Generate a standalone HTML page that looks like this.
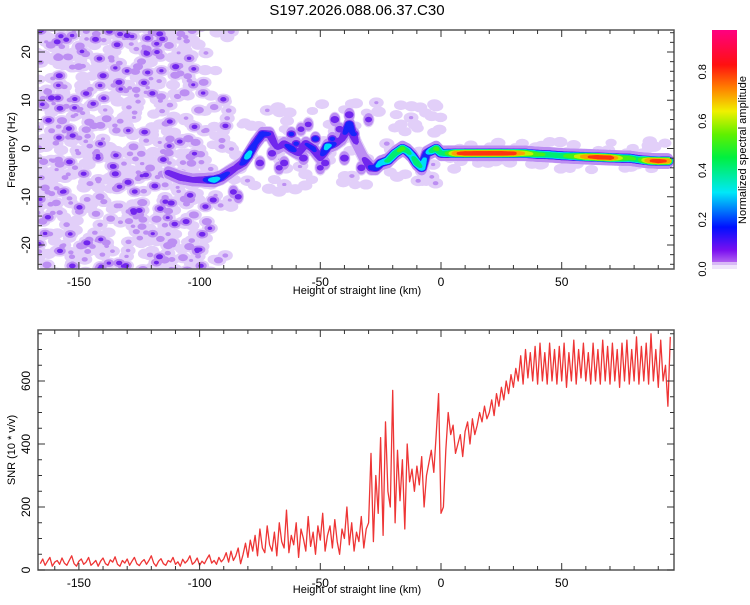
<!DOCTYPE html>
<html><head><meta charset="utf-8"><style>
html,body{margin:0;padding:0;background:#fff;}
svg text{font-family:"Liberation Sans",sans-serif;fill:#000;}
</style></head><body>
<svg id="svg" width="750" height="600" xmlns="http://www.w3.org/2000/svg">
<defs>
<clipPath id="clipTop"><rect x="38" y="30" width="636" height="239"/></clipPath>
<clipPath id="clipBot"><rect x="38" y="330" width="636" height="240"/></clipPath>
<linearGradient id="cbar" x1="0" y1="1" x2="0" y2="0">
<stop offset="0" stop-color="#b060f0"/><stop offset="0.05" stop-color="#7a10f0"/>
<stop offset="0.15" stop-color="#0010ff"/><stop offset="0.3" stop-color="#00e8f8"/>
<stop offset="0.45" stop-color="#00f040"/><stop offset="0.55" stop-color="#60f000"/>
<stop offset="0.65" stop-color="#f0f000"/><stop offset="0.75" stop-color="#ff8000"/>
<stop offset="0.85" stop-color="#ff1010"/><stop offset="1" stop-color="#ff0080"/>
</linearGradient>
</defs>
<text x="357" y="15" font-size="15" text-anchor="middle">S197.2026.088.06.37.C30</text>
<g id="spec" clip-path="url(#clipTop)"></g>
<g id="snr" clip-path="url(#clipBot)"></g>
<g id="axes"></g>
<g>
<rect x="712" y="30" width="25" height="232" fill="url(#cbar)"/>
<rect x="712" y="262" width="25" height="3" fill="#d8b8f6"/>
<rect x="712" y="265" width="25" height="4" fill="#efe4fb"/>
<text transform="translate(746,150) rotate(-90)" font-size="11" text-anchor="middle">Normalized spectral amplitude</text>
</g>
</svg>
<script>
// ---- spectrogram ridge data ----
const ridgeH=[-113,-108,-103,-98,-94,-91,-88,-85,-82,-80,-77,-74,-71,-68,-65,-62,-59,-56,-53,-50,-47,-44,-41,-38,-35,-32,-29,-27,-25,-22,-19,-16,-14,-12,-10,-8,-6,-4,-2,0,3,6,10,15,20,25,30,35,40,45,50,55,60,65,70,75,78,82,86,90,94];
const ridgeF=[-5,-6,-6.5,-6.5,-6.5,-6,-5,-4,-3,-1.5,1,3,3,0,1,0,-1,1,0,-2,0.5,1,2,5,1,-2,-4,-4,-3,-2.5,-1,0,-0.5,-1.5,-3,-4,-1,-0.5,0,-1,-1,-1,-1,-1,-1,-1,-1,-1,-1.2,-1.3,-1.5,-1.6,-1.7,-1.8,-1.9,-2,-2,-2.3,-2.5,-2.6,-2.6];
const ridgeA=[0.15,0.18,0.15,0.2,0.38,0.25,0.2,0.15,0.22,0.35,0.22,0.25,0.2,0.12,0.18,0.25,0.15,0.2,0.22,0.15,0.35,0.2,0.15,0.3,0.12,0.12,0.22,0.28,0.35,0.45,0.5,0.55,0.45,0.4,0.5,0.4,0.25,0.45,0.55,0.45,0.55,0.8,0.88,0.9,0.9,0.9,0.85,0.7,0.55,0.5,0.5,0.6,0.8,0.88,0.88,0.6,0.55,0.5,0.8,0.88,0.8];
// scattered cluster blobs
const clusterH=[-62,-57,-52,-48,-44,-40,-36,-33,-75,-86,-84,-65,-30,-55,-70,-45,-38,-60,-67,-50,-42,-58];
const clusterF=[3,-2,2,-3,6,-2,3,-4,-3,-9,-10,-3,6,5,-1,2,7,1,-4,-4,4,4];
const clusterA=[0.22,0.2,0.25,0.18,0.2,0.2,0.22,0.18,0.18,0.15,0.15,0.18,0.15,0.15,0.18,0.22,0.2,0.22,0.15,0.15,0.18,0.15];
// ---- SNR data (1 km steps from -166) ----
const snrStart=-166;
const snrValues=[20,35,15,28,40,12,25,30,18,38,22,15,30,45,20,12,28,35,18,25,40,15,22,30,12,28,38,20,15,32,25,42,18,12,30,22,35,15,28,40,20,14,26,33,18,30,45,22,12,28,36,20,15,30,25,40,18,26,12,34,22,30,45,18,25,38,15,28,20,35,48,22,30,18,40,26,
35,55,25,60,30,45,70,20,50,85,40,95,60,110,45,130,70,55,140,80,
60,120,45,150,90,70,190,55,110,80,150,40,130,100,60,170,75,120,50,140,95,180,60,110,140,70,160,90,50,130,100,200,80,150,60,120,90,170,70,130,
150,370,90,300,180,420,110,470,250,200,
570,150,380,220,350,130,400,280,320,250,
330,270,360,200,300,340,380,310,430,560,
180,200,380,500,430,460,370,400,430,360,
440,470,400,480,430,460,500,470,520,480,
500,540,490,560,520,580,540,600,560,620,
580,640,600,680,590,700,610,690,600,710,
590,720,600,690,590,720,600,700,590,710,
600,720,580,690,600,730,590,700,610,720,
600,690,590,720,600,700,590,730,600,710,
590,720,600,700,580,720,600,730,590,700,
600,740,590,710,600,720,590,750,600,700,
580,730,600,650,520,740];
const xTicks=[-150,-100,-50,0,50];
const fTicks=[-20,-10,0,10,20];
const snrTicks=[0,200,400,600];
const cbTicks=[0.0,0.2,0.4,0.6,0.8];

const NS="http://www.w3.org/2000/svg";
function X(h){return 441+(h)*2.414;}
function YF(f){return 148.5-f*4.825;}
function YS(v){return 570-v*0.315;}
function YC(c){return 269-c*246.5;}
function mk(tag,attrs,parent){const e=document.createElementNS(NS,tag);for(const k in attrs)e.setAttribute(k,attrs[k]);parent.appendChild(e);return e;}
const stops=[[0,[232,218,250]],[0.05,[200,165,244]],[0.1,[140,50,232]],[0.18,[30,0,250]],[0.3,[0,220,250]],[0.45,[0,240,80]],[0.55,[100,240,0]],[0.65,[240,240,0]],[0.75,[255,130,0]],[0.85,[255,20,20]],[1,[255,0,128]]];
function cmap(a){for(let i=1;i<stops.length;i++){if(a<=stops[i][0]){const t=(a-stops[i-1][0])/(stops[i][0]-stops[i-1][0]);const c=stops[i-1][1].map((v,j)=>Math.round(v+(stops[i][1][j]-v)*t));return `rgb(${c})`;}}return 'rgb(255,0,128)';}

const spec=document.getElementById('spec');
const levels=[0.01,0.06,0.12,0.2,0.3,0.42,0.52,0.62,0.72,0.82,0.9];
// decorative background noise texture (deterministic)
let seed=12345;function rnd(){seed=(seed*1103515245+12345)%2147483648;return seed/2147483648;}
const noise=[];
for(let i=0;i<800;i++){const h=-168+rnd()*82;const f=-26+rnd()*52;if(h>-105&&rnd()<(h+105)/20)continue;const r=rnd();const a=r<0.7?0.03+rnd()*0.05:0.09+rnd()*0.07;noise.push([h,f,a]);}
for(let i=0;i<110;i++){const h=-95+rnd()*95;const f=-9+rnd()*19;noise.push([h,f,0.02+rnd()*0.05]);}
for(let i=0;i<70;i++){const h=rnd()*95;const f=-4.5+rnd()*6;noise.push([h,f,0.02+rnd()*0.04]);}
const ng=mk('g',{},spec);


levels.slice(0,4).forEach(l=>{noise.forEach(p=>{if(p[2]>l){const s=(p[2]-l)/p[2];mk('ellipse',{cx:X(p[0]),cy:YF(p[1]),rx:2+6.5*s,ry:1.5+4.5*s,fill:cmap(l)},ng);}});});

// ridge: dense interpolation for drawing
const pts=[];
for(let i=0;i<ridgeH.length-1;i++){for(let t=0;t<1;t+=0.1){pts.push([ridgeH[i]+(ridgeH[i+1]-ridgeH[i])*t,ridgeF[i]+(ridgeF[i+1]-ridgeF[i])*t,ridgeA[i]+(ridgeA[i+1]-ridgeA[i])*t]);}}
pts.push([ridgeH[ridgeH.length-1],ridgeF[ridgeF.length-1],ridgeA[ridgeA.length-1]]);
for(let i=0;i<clusterH.length;i++)pts.push([clusterH[i],clusterF[i],clusterA[i]]);
const rg=mk('g',{},spec);


levels.forEach(l=>{pts.forEach(p=>{if(p[2]>l){const s=Math.sqrt((p[2]-l)/p[2]);mk('ellipse',{cx:X(p[0]),cy:YF(p[1]),rx:1.5+4.5*s,ry:1+(l<0.1?7:4)*s,fill:cmap(l)},rg);}});});

// SNR line
const snr=document.getElementById('snr');
let d='';snrValues.forEach((v,i)=>{d+=(i?'L':'M')+X(snrStart+i).toFixed(1)+' '+YS(v).toFixed(1);});
const line=mk('path',{d:d,fill:'none',stroke:'#ee3535','stroke-width':1.3,'stroke-linejoin':'round'},snr);



// axes
const ax=document.getElementById('axes');
function frame(y0,y1,name){const r=mk('rect',{x:38,y:y0,width:636,height:y1-y0,fill:'none',stroke:'#555','stroke-width':1.5},ax);}
frame(30,269,'spectrogram-frame');frame(330,570,'snr-frame');
function xAxis(y0,y1,labelY,titleY,pref){
 for(let h=-160;h<=90;h+=10){const major=h%50===0;const len=major?7:4;const x=X(h);
  mk('line',{x1:x,y1:y1,x2:x,y2:y1-len,stroke:'#333','stroke-width':1},ax);
  mk('line',{x1:x,y1:y0,x2:x,y2:y0+len,stroke:'#333','stroke-width':1},ax);}
 xTicks.forEach(h=>{const t=mk('text',{x:X(h),y:labelY,'font-size':12,'text-anchor':'middle'},ax);t.textContent=h;});
 const tt=mk('text',{x:357,y:titleY,'font-size':11,'text-anchor':'middle'},ax);tt.textContent='Height of straight line (km)';
 
 
}
xAxis(30,269,286,294,'top');xAxis(330,570,587,593,'bottom');
for(let f=-24;f<=24;f+=2){const y=YF(f);const len=f%10===0?7:4;mk('line',{x1:38,y1:y,x2:38+len,y2:y,stroke:'#333'},ax);mk('line',{x1:674,y1:y,x2:674-len,y2:y,stroke:'#333'},ax);}
fTicks.forEach(f=>{const t=mk('text',{transform:`translate(30,${YF(f)}) rotate(-90)`,'font-size':12,'text-anchor':'middle'},ax);t.textContent=f;});
const fy=mk('text',{transform:'translate(15,150) rotate(-90)','font-size':11,'text-anchor':'middle'},ax);fy.textContent='Frequency (Hz)';


for(let v=0;v<=750;v+=50){const y=YS(v);const len=v%200===0?7:4;mk('line',{x1:38,y1:y,x2:38+len,y2:y,stroke:'#333'},ax);mk('line',{x1:674,y1:y,x2:674-len,y2:y,stroke:'#333'},ax);}
snrTicks.forEach(v=>{const t=mk('text',{transform:`translate(30,${YS(v)}) rotate(-90)`,'font-size':12,'text-anchor':'middle'},ax);t.textContent=v;});
const sy=mk('text',{transform:'translate(15,450) rotate(-90)','font-size':11,'text-anchor':'middle'},ax);sy.textContent='SNR (10 * v/v)';


cbTicks.forEach(c=>{const t=mk('text',{transform:`translate(706,${YC(c)}) rotate(-90)`,'font-size':11,'text-anchor':'middle'},ax);t.textContent=c.toFixed(1);});
</script>
</body></html>
